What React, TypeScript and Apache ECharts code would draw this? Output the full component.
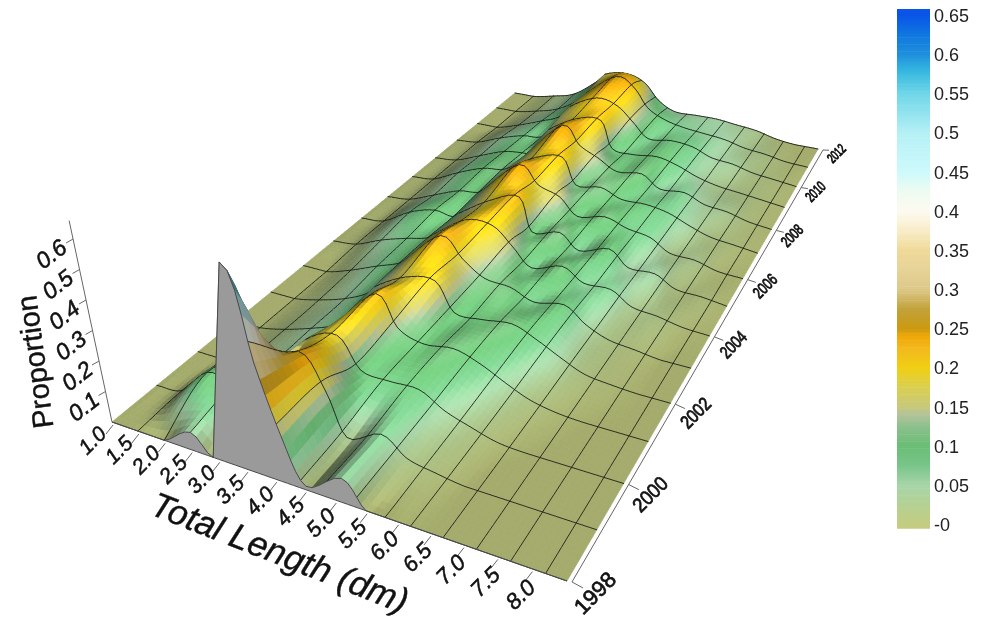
import React, { useEffect, useRef } from "react";
import * as echarts from "echarts";

const lengths = [1, 1.5, 2, 2.5, 2.9, 3, 3.5, 4, 4.5, 5, 5.5, 6, 6.5, 7, 7.5, 8, 8.5];
const years = [1998, 1999, 2000, 2001, 2002, 2003, 2004, 2005, 2006, 2007, 2008, 2009, 2010, 2011, 2012];
const proportion: number[][] = [
  [0, 0, 0, .055, 0, .62, .33, .13, .01, .065, 0, 0, 0, 0, 0, 0, 0],
  [0, .01, .1, .09, .1, .15, .25, .15, .03, .07, .025, .01, 0, 0, 0, 0, 0],
  [0, 0, .03, .05, .09, .15, .19, .1, .09, .09, .05, .025, .005, 0, 0, 0, 0],
  [0, 0, .02, .05, .08, .1, .225, .13, .1, .11, .085, .05, .02, .005, 0, 0, 0],
  [0, 0, .02, .05, .09, .12, .18, .19, .1, .1, .11, .08, .045, .015, .005, 0, 0],
  [0, 0, .03, .07, .1, .12, .235, .17, .12, .11, .08, .095, .05, .02, .01, 0, 0],
  [0, .01, .05, .08, .1, .12, .2, .2, .14, .08, .11, .07, .07, .03, .02, .005, 0],
  [0, .01, .07, .1, .09, .11, .185, .22, .1, .12, .07, .1, .05, .05, .015, .01, 0],
  [0, .01, .05, .09, .1, .12, .245, .18, .15, .09, .11, .085, .07, .03, .025, .005, 0],
  [0, .01, .06, .1, .11, .12, .19, .21, .11, .12, .09, .09, .075, .045, .02, .01, 0],
  [0, .01, .05, .09, .1, .1, .25, .18, .14, .1, .11, .065, .07, .04, .03, .01, 0],
  [0, .01, .05, .08, .09, .13, .2, .21, .1, .09, .1, .08, .05, .03, .02, .01, 0],
  [0, 0, .03, .07, .11, .16, .22, .2, .14, .08, .09, .08, .05, .04, .02, .01, 0],
  [0, 0, .02, .05, .11, .15, .25, .21, .13, .09, .07, .06, .05, .03, .02, .005, 0],
  [0, 0, .02, .05, .13, .17, .19, .16, .09, .05, .05, .05, .04, .03, .01, 0, 0],
];
const meshLengths = [1, 1.5, 2, 2.5, 2.9, 3.4, 3.9, 4.4, 4.8, 5.3, 5.8, 6.2, 6.7, 7.2, 7.7, 8.2];
const lengthTicks = [1, 1.5, 2, 2.5, 3, 3.5, 4, 4.5, 5, 5.5, 6, 6.5, 7, 7.5, 8];
const yearTicks = [1998, 2000, 2002, 2004, 2006, 2008, 2010, 2012];
const zTicks = [0.1, 0.2, 0.3, 0.4, 0.5, 0.6];
const paletteValues = [0, .02, .05, .075, .1, .125, .14, .15, .175, .2, .225, .24, .25, .275, .3, .33, .35, .375, .4, .425, .45, .5, .55, .58, .6, .625, .65];
const paletteColors = ["#c3cc80", "#b8d090", "#a6d5a8", "#79c58a", "#6bbd75", "#8cc08d", "#b3c39b", "#c8c87a", "#d9cf50", "#f0cf14", "#f3b81e", "#f0a808", "#cb9a10", "#c2a23b", "#dcc888", "#e8d59a", "#f0d998", "#f8ecc8", "#fdfaf0", "#eefbf0", "#cdfafc", "#b5f0f5", "#6fd6e8", "#34b6df", "#1f8fdc", "#0f78df", "#0a55e8"];

const FONT = "Liberation Sans";
const hex = (c: string) => [1, 3, 5].map((i) => parseInt(c.slice(i, i + 2), 16));
const paletteRgb = paletteColors.map(hex);
function colorAt(z: number, k = 1) {
  const v = Math.max(0, Math.min(.65, z));
  let i = 0;
  while (i < paletteValues.length - 2 && v > paletteValues[i + 1]) i++;
  const t = (v - paletteValues[i]) / (paletteValues[i + 1] - paletteValues[i]);
  const c = paletteRgb[i].map((a, n) => Math.min(255, Math.round((a + (paletteRgb[i + 1][n] - a) * t) * k)));
  return `rgb(${c[0]},${c[1]},${c[2]})`;
}

// Cubic Hermite curve through the samples; the slope is flattened only at a very lopsided peak.
function smoothCurve(xs: number[], ys: number[]) {
  const n = xs.length;
  const d: number[] = [];
  for (let i = 0; i < n - 1; i++) d.push((ys[i + 1] - ys[i]) / (xs[i + 1] - xs[i]));
  const m = new Array(n).fill(0);
  m[0] = d[0];
  m[n - 1] = d[n - 2];
  for (let i = 1; i < n - 1; i++) {
    const a = Math.abs(d[i - 1]), b = Math.abs(d[i]);
    const lopsided = Math.max(a, b) > 3 * Math.min(a, b) + 0.4;
    m[i] = lopsided ? 0 : (ys[i + 1] - ys[i - 1]) / (xs[i + 1] - xs[i - 1]);
  }
  return (x: number) => {
    let i = 0;
    while (i < n - 2 && x > xs[i + 1]) i++;
    const h = xs[i + 1] - xs[i];
    const t = (x - xs[i]) / h;
    const t2 = t * t, t3 = t2 * t;
    return (2 * t3 - 3 * t2 + 1) * ys[i] + (t3 - 2 * t2 + t) * h * m[i] + (-2 * t3 + 3 * t2) * ys[i + 1] + (t3 - t2) * h * m[i + 1];
  };
}

// Projection: homography of the floor plus a converging height direction.
const A = 366.2, B = 728.2, C = 112, D = 68, E = -270.3, F = 422, G = -0.1566, H = 0.6314;
const K = 305, VX = 218, VY = 920;
function project(L: number, Y: number, z: number) {
  const u = (L - 1) / 7.5;
  const v = (Y - 1998) / 14;
  const w = 1 + G * u + H * v;
  const x = (A * u + B * v + C) / w;
  const y = (D * u + E * v + F) / w;
  const s = (K / w) * z;
  const t = (x - VX) / (VY - y);
  return [x + t * s, y - s];
}

const fineL: number[] = [];
for (let i = 0; i <= 75; i++) fineL.push(1 + i * 0.1);
const fineY: number[] = [];
for (let j = 0; j <= 112; j++) fineY.push(1998 + j * 0.125);
const rowFine = proportion.map((row) => {
  const f = smoothCurve(lengths, row);
  return fineL.map(f);
});
const surface: number[][] = fineL.map((_, i) => {
  const f = smoothCurve(years, rowFine.map((r) => r[i]));
  return fineY.map((y) => Math.max(0, f(y)));
});
const meshI = new Set(meshLengths.map((l) => Math.round((l - 1) * 10)));
const meshJ = new Set(years.map((y) => (y - 1998) * 8));

const quads: number[][] = [];
for (let j = fineY.length - 2; j >= 0; j--) for (let i = 0; i < fineL.length - 1; i++) quads.push([i, j]);

function renderQuad(_: any, api: any) {
  const i = api.value(0), j = api.value(1);
  const p = (a: number, b: number) => project(fineL[a], fineY[b], surface[a][b]);
  const z = (surface[i][j] + surface[i + 1][j] + surface[i][j + 1] + surface[i + 1][j + 1]) / 4;
  const gx = (((surface[i + 1][j] + surface[i + 1][j + 1]) - (surface[i][j] + surface[i][j + 1])) / 2 / 0.1) * 7.5 * 1.3;
  const gy = (((surface[i][j + 1] + surface[i + 1][j + 1]) - (surface[i][j] + surface[i + 1][j])) / 2 / 0.125) * (14 / 1.6) * 1.3;
  const ndl = (-0.35 * gx + 0.45 * gy + 0.82) / Math.sqrt(gx * gx + gy * gy + 1);
  const base = z < 0.02 ? 0.84 : z < 0.07 ? 0.84 + (0.21 * (z - 0.02)) / 0.05 : 1.05;
  const k = Math.max(0.45, Math.min(1.12, base + 0.7 * (ndl - 0.82)));
  const col = colorAt(z, k);
  const children: any[] = [{
    type: "polygon",
    shape: { points: [p(i, j), p(i + 1, j), p(i + 1, j + 1), p(i, j + 1)] },
    style: { fill: col, stroke: col, lineWidth: 0.7 },
  }];
  const ln = "rgba(20,25,20,0.85)";
  if (meshJ.has(j + 1)) {
    const a = p(i, j + 1), b = p(i + 1, j + 1);
    children.push({ type: "line", shape: { x1: a[0], y1: a[1], x2: b[0], y2: b[1] }, style: { stroke: ln, lineWidth: 1, lineCap: "round" } });
  }
  if (meshI.has(i) && i > 0) {
    const a = p(i, j), b = p(i, j + 1);
    children.push({ type: "line", shape: { x1: a[0], y1: a[1], x2: b[0], y2: b[1] }, style: { stroke: ln, lineWidth: 1, lineCap: "round" } });
  }
  return { type: "group", children };
}

function renderSkirt() {
  const pts: number[][] = [];
  fineL.forEach((l, i) => pts.push(project(l, 1998, surface[i][0])));
  for (let i = fineL.length - 1; i >= 0; i--) pts.push(project(fineL[i], 1998, 0));
  return { type: "polygon", shape: { points: pts }, style: { fill: "#9a9a9a", stroke: "#4a4a4a", lineWidth: 1 } };
}

function renderBar(_: any, api: any) {
  const a = api.coord([0, api.value(0)]);
  const b = api.coord([0, api.value(0) + 0.003]);
  const size = api.size([1, 0]);
  return {
    type: "rect",
    shape: { x: a[0], y: b[1], width: size[0], height: a[1] - b[1] + 0.6 },
    style: { fill: colorAt(api.value(0)) },
  };
}

function axisGraphics() {
  const out: any[] = [];
  const line = (a: number[], b: number[], stroke = "#555", lw = 1) =>
    out.push({ type: "line", shape: { x1: a[0], y1: a[1], x2: b[0], y2: b[1] }, style: { stroke, lineWidth: lw } });
  const text = (t: string, x: number, y: number, rotation: number, fontSize: number, italic = true, sx = 1, sy = 1, bold = 0.5) =>
    out.push({
      type: "text", x, y, rotation, scaleX: sx, scaleY: sy,
      style: { text: t, fontFamily: FONT, fontSize, fontStyle: italic ? "italic" : "normal", fill: "#111", stroke: "#111", lineWidth: bold, textAlign: "center", textVerticalAlign: "middle" },
    });
  // proportion axis
  line(project(1, 1998, 0), project(1, 1998, 0.66), "#666");
  zTicks.forEach((z) => {
    const p = project(1, 1998, z);
    line(p, [p[0] - 7, p[1] + 4], "#666");
    text(z.toFixed(1), p[0] - 22, p[1] + 15, 0.66, 23);
  });
  // length axis
  lengthTicks.forEach((l) => {
    const p = project(l, 1998, 0);
    line([p[0] + 1, p[1] + 3], [p[0] - 6, p[1] + 12], "#666");
    const t = (l - 1) / 7;
    text(l.toFixed(1), p[0] - 20 + 9 * t, p[1] + 18 + 8 * t, 0.79, 21 + 1.5 * t);
  });
  // year axis
  const a0 = project(8.5, 1998, 0), a1 = project(8.5, 2012, 0);
  line([a0[0] + 5, a0[1] + 1], [a1[0] + 5, a1[1] + 1], "#666");
  yearTicks.forEach((y) => {
    const v = (y - 1998) / 14;
    const p = project(8.5, y, 0);
    const s = 1 - 0.45 * v;
    line([p[0] + 5, p[1] + 1], [p[0] + 5 + 11 * s, p[1] + 1 + 6 * s - 3 * v], "#666");
    text(String(y), p[0] + 28 - 10 * v, p[1] + 12 - 8 * v, 0.79, 22, false, 1 / (1 + 1.45 * v), 1 / (1 + 0.6 * v), 0.7 + 0.8 * v);
  });
  text("Total Length (dm)", 280, 552, -0.375, 35, true, 1, 1, 0.4);
  text("Proportion", 35, 362, 1.7, 29, false, 1, 1, 0.4);
  return out;
}

const barSteps: number[] = [];
for (let i = 0; i <= 220; i++) barSteps.push(-0.004 + i * 0.003);

export default function App() {
  const ref = useRef<HTMLDivElement>(null);
  useEffect(() => {
    document.body.style.margin = "0";
    const chart = echarts.init(ref.current!, null, { renderer: "svg" });
    chart.setOption({
      animation: false,
      backgroundColor: "#fff",
      grid: { left: 897, width: 33, top: 16, bottom: 95 },
      xAxis: { type: "value", min: 0, max: 1, show: false },
      yAxis: {
        type: "value", position: "right", min: 0, max: 0.65, interval: 0.05, splitLine: { show: false },
        axisLine: { show: true, lineStyle: { color: "#aaa" } },
        axisTick: { show: true, length: 9, lineStyle: { color: "#999" } },
        axisLabel: {
          margin: 4, fontFamily: FONT, fontSize: 18, color: "#222",
          formatter: (v: number) => (v === 0 ? "-0" : String(+v.toFixed(2))),
        },
      },
      graphic: axisGraphics(),
      series: [
        { type: "custom", coordinateSystem: "none", silent: true, progressive: 0, clip: false, data: quads, renderItem: renderQuad, z: 2 },
        { type: "custom", coordinateSystem: "none", silent: true, progressive: 0, data: [[0]], renderItem: renderSkirt, z: 3 },
        { type: "custom", silent: true, progressive: 0, clip: false, encode: { y: 0 }, data: barSteps.map((b) => [b]), renderItem: renderBar, z: 1 },
      ],
    });
    return () => chart.dispose();
  }, []);
  return <div ref={ref} style={{ position: "absolute", left: 0, top: 0, width: 984, height: 620, filter: "blur(0.5px)" }} />;
}
